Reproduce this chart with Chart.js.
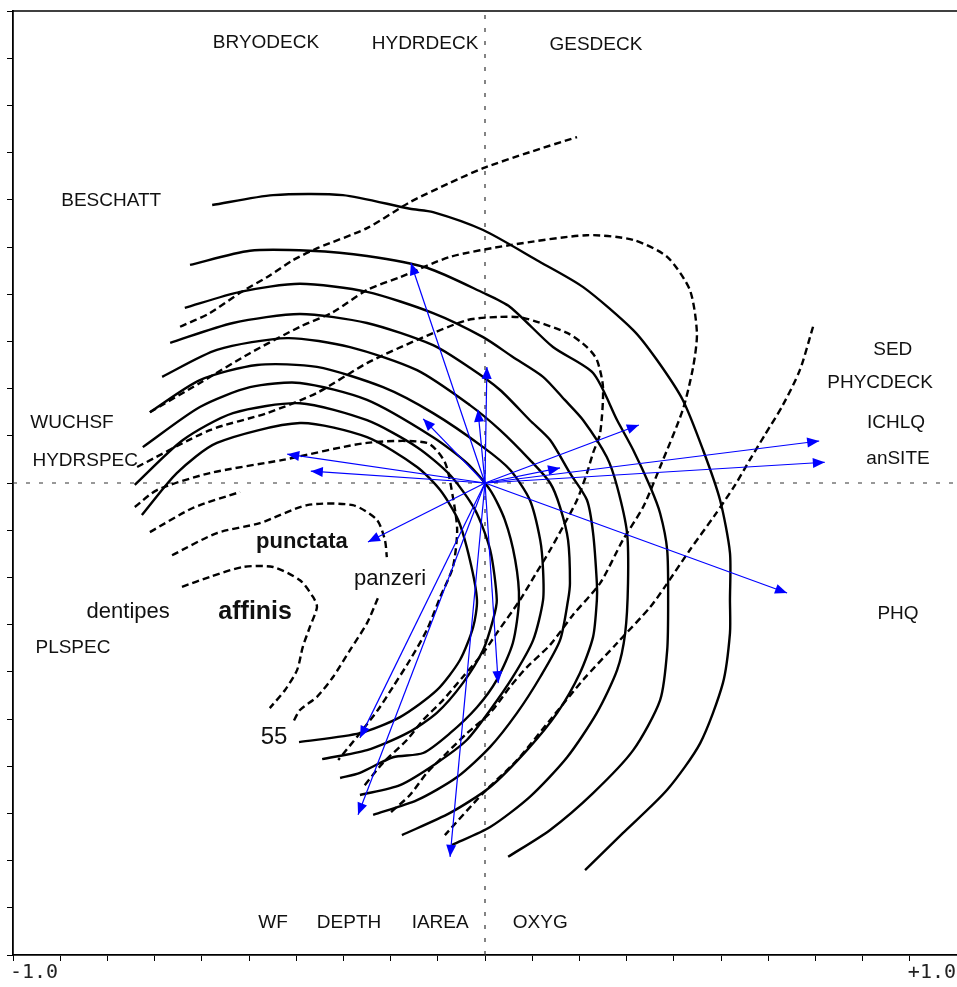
<!DOCTYPE html>
<html>
<head>
<meta charset="utf-8">
<title>Ordination diagram</title>
<script src="https://cdn.jsdelivr.net/npm/chart.js@4.4.1/dist/chart.umd.min.js"></script>
<style>
  html, body { margin: 0; padding: 0; background: #fff; }
  #wrap { width: 957px; height: 987px; }
</style>
</head>
<body>
<div id="wrap"><canvas id="ordination" width="957" height="987"></canvas></div>
<script>
/* ---------- 1.  DATA (axis units, -1 .. +1) ---------- */

// solid response contours, outermost first
const s1x = [-0.578,-0.449,-0.301,-0.159,-0.110,-0.004,0.110,0.208,0.314,0.364,0.419,0.462,0.498,0.519,0.519,0.519,0.504,0.456,0.386,0.292,0.212];
const s1y = [0.589,0.610,0.610,0.581,0.574,0.536,0.472,0.415,0.324,0.261,0.176,0.070,-0.036,-0.148,-0.248,-0.318,-0.424,-0.551,-0.650,-0.742,-0.820];
const s2x = [-0.625,-0.498,-0.371,-0.250,-0.123,-0.004,0.053,0.144,0.229,0.280,0.314,0.350,0.371,0.386,0.388,0.386,0.371,0.314,0.229,0.138,0.049];
const s2y = [0.462,0.492,0.492,0.481,0.456,0.403,0.373,0.288,0.233,0.133,0.070,-0.008,-0.064,-0.142,-0.248,-0.354,-0.460,-0.566,-0.657,-0.735,-0.792];
const s3x = [-0.636,-0.519,-0.392,-0.250,-0.110,-0.004,0.059,0.123,0.169,0.208,0.258,0.280,0.301,0.303,0.297,0.280,0.237,0.174,0.095,0.011,-0.070];
const s3y = [0.371,0.405,0.422,0.405,0.360,0.309,0.267,0.225,0.176,0.133,0.055,-0.008,-0.106,-0.212,-0.318,-0.396,-0.487,-0.581,-0.665,-0.729,-0.767];
const s4x = [-0.667,-0.534,-0.392,-0.250,-0.110,-0.032,0.032,0.095,0.138,0.180,0.216,0.229,0.237,0.237,0.229,0.201,0.153,0.089,0.011,-0.074,-0.176];
const s4y = [0.297,0.339,0.358,0.339,0.292,0.244,0.197,0.133,0.091,0.021,-0.036,-0.106,-0.212,-0.248,-0.326,-0.403,-0.487,-0.566,-0.644,-0.699,-0.746];
const s5x = [-0.684,-0.568,-0.419,-0.286,-0.144,-0.032,0.032,0.095,0.138,0.159,0.176,0.180,0.176,0.159,0.117,0.068,0.011,-0.059,-0.144,-0.237];
const s5y = [0.225,0.282,0.307,0.288,0.239,0.165,0.112,0.049,0.000,-0.051,-0.121,-0.212,-0.248,-0.333,-0.411,-0.487,-0.559,-0.623,-0.672,-0.703];
const s6x = [-0.710,-0.604,-0.483,-0.356,-0.216,-0.110,-0.004,0.053,0.095,0.117,0.123,0.123,0.102,0.059,0.011,-0.038,-0.102,-0.180,-0.265];
const s6y = [0.150,0.218,0.250,0.246,0.203,0.148,0.076,0.028,-0.036,-0.121,-0.184,-0.248,-0.333,-0.411,-0.481,-0.544,-0.593,-0.640,-0.661];
const s7x = [-0.725,-0.604,-0.498,-0.392,-0.250,-0.110,-0.038,0.011,0.042,0.064,0.072,0.059,0.025,-0.017,-0.074,-0.131,-0.195,-0.265,-0.307];
const s7y = [0.076,0.161,0.203,0.212,0.176,0.097,0.042,-0.015,-0.078,-0.163,-0.248,-0.339,-0.417,-0.475,-0.530,-0.572,-0.581,-0.614,-0.625];
const s8x = [-0.742,-0.640,-0.534,-0.392,-0.250,-0.144,-0.074,-0.021,0.011,0.025,0.017,-0.004,-0.047,-0.102,-0.165,-0.250,-0.345];
const s8y = [-0.004,0.091,0.148,0.169,0.133,0.076,0.017,-0.057,-0.142,-0.248,-0.290,-0.354,-0.424,-0.487,-0.530,-0.566,-0.585];
const s9x = [-0.727,-0.653,-0.568,-0.392,-0.250,-0.144,-0.095,-0.057,-0.032,-0.017,-0.025,-0.053,-0.102,-0.180,-0.265,-0.394];
const s9y = [-0.068,0.021,0.085,0.127,0.097,0.034,-0.015,-0.078,-0.163,-0.248,-0.305,-0.375,-0.439,-0.496,-0.530,-0.549];

// dashed response contours
const daX = [-0.646,-0.583,-0.519,-0.462,-0.407,-0.354,-0.250,-0.159,-0.074,-0.004,0.095,0.195];
const daY = [0.331,0.360,0.403,0.436,0.472,0.498,0.540,0.595,0.636,0.667,0.701,0.733];
const dbX = [-0.710,-0.604,-0.498,-0.392,-0.322,-0.250,-0.180,-0.074,0.053,0.216,0.314,0.386,0.434,0.449,0.441,0.419,0.371,0.335,0.292,0.244,0.186,0.138,0.089,0.053,0.011,-0.038,-0.081,-0.123,-0.159,-0.201];
const dbY = [0.150,0.212,0.275,0.331,0.362,0.409,0.436,0.479,0.504,0.525,0.515,0.479,0.409,0.318,0.246,0.155,0.034,-0.051,-0.121,-0.212,-0.280,-0.343,-0.390,-0.432,-0.487,-0.530,-0.572,-0.614,-0.661,-0.699];
const dcX = [-0.737,-0.583,-0.462,-0.356,-0.250,-0.144,-0.038,0.032,0.081,0.174,0.216,0.237,0.250,0.244,0.229,0.216,0.195,0.165,0.138,0.106,0.074,0.025,-0.004,-0.047,-0.089,-0.131,-0.165,-0.216,-0.258];
const dcY = [0.034,0.112,0.148,0.191,0.254,0.303,0.345,0.352,0.350,0.318,0.288,0.261,0.203,0.106,0.064,0.021,-0.036,-0.093,-0.142,-0.195,-0.248,-0.318,-0.360,-0.411,-0.460,-0.502,-0.544,-0.593,-0.644];
const ddX = [-0.742,-0.695,-0.583,-0.428,-0.250,-0.123,-0.085,-0.068,-0.059,-0.068,-0.095,-0.123,-0.159,-0.195,-0.227,-0.265,-0.311];
const ddY = [-0.051,-0.015,0.021,0.049,0.085,0.085,0.044,-0.030,-0.100,-0.178,-0.242,-0.311,-0.375,-0.432,-0.481,-0.530,-0.587];
const deX = [-0.710,-0.619,-0.519];
const deY = [-0.104,-0.053,-0.019];
const punctataX = [-0.663,-0.568,-0.477,-0.377,-0.280,-0.229,-0.212,-0.208];
const punctataY = [-0.153,-0.106,-0.085,-0.047,-0.047,-0.078,-0.121,-0.157];
const affinisX = [-0.642,-0.583,-0.513,-0.449,-0.392,-0.364,-0.356,-0.371,-0.386,-0.398,-0.424,-0.456];
const affinisY = [-0.220,-0.199,-0.178,-0.178,-0.206,-0.242,-0.263,-0.305,-0.347,-0.396,-0.439,-0.477];
const panzeriX = [-0.227,-0.250,-0.286,-0.322,-0.356,-0.392,-0.407];
const panzeriY = [-0.244,-0.297,-0.354,-0.411,-0.453,-0.481,-0.508];
const outerX = [0.695,0.667,0.631,0.593,0.561,0.530,0.487,0.434,0.381,0.350,0.280,0.208,0.138,0.068,-0.004,-0.085];
const outerY = [0.331,0.239,0.165,0.102,0.049,-0.004,-0.068,-0.142,-0.220,-0.263,-0.339,-0.417,-0.502,-0.587,-0.657,-0.746];

// environmental arrows (tips; all start at the origin)
const arrowX = [-0.157, 0.004,-0.015,-0.131,-0.419,-0.369,-0.248, 0.326, 0.159, 0.708, 0.720, 0.640, 0.028,-0.265,-0.269,-0.074];
const arrowY = [ 0.466, 0.246, 0.155, 0.136, 0.061, 0.025,-0.125, 0.123, 0.032, 0.089, 0.044,-0.233,-0.424,-0.540,-0.703,-0.792];

// text labels
const labelText = ['BRYODECK','HYDRDECK','GESDECK','BESCHATT','SED','PHYCDECK','ICHLQ','anSITE',
                   'WUCHSF','HYDRSPEC','punctata','panzeri','dentipes','affinis','PLSPEC','55','PHQ',
                   'WF','DEPTH','IAREA','OXYG'];
const labelX = [-0.464,-0.127, 0.235,-0.792, 0.864, 0.837, 0.871, 0.875,
                -0.875,-0.847,-0.388,-0.201,-0.756,-0.487,-0.873,-0.447, 0.875,
                -0.449,-0.288,-0.095, 0.117];
const labelY = [ 0.932, 0.930, 0.928, 0.597, 0.282, 0.212, 0.127, 0.051,
                 0.127, 0.047,-0.125,-0.203,-0.273,-0.273,-0.350,-0.538,-0.278,
                -0.932,-0.932,-0.932,-0.932];
const axisEndLabels = ['-1.0', '+1.0'];

/* ---------- 2.  HELPERS ---------- */
const zip = (xs, ys) => xs.map((v, i) => ({ x: v, y: ys[i] }));

function contour(xs, ys, dashed) {
  return {
    data: zip(xs, ys), showLine: true, fill: false,
    borderColor: '#000', borderWidth: 2.4, borderDash: dashed ? [7, 4] : [],
    pointRadius: 0, tension: 0.25, order: 3
  };
}

const labelFont = {
  punctata: 'bold 22px "Liberation Sans", Arial, sans-serif',
  affinis:  'bold 25px "Liberation Sans", Arial, sans-serif',
  panzeri:  '22px "Liberation Sans", Arial, sans-serif',
  dentipes: '22px "Liberation Sans", Arial, sans-serif',
  '55':     '24px "Liberation Sans", Arial, sans-serif'
};
const defaultFont = '19px "Liberation Sans", Arial, sans-serif';

/* ---------- 3.  DATASETS ---------- */
const datasets = [];

arrowX.forEach((ax, i) => {
  datasets.push({
    data: [{ x: 0, y: 0 }, { x: ax, y: arrowY[i] }], showLine: true, fill: false,
    borderColor: '#0000ff', borderWidth: 1.2, pointRadius: 0, order: 1
  });
});

[[s1x,s1y],[s2x,s2y],[s3x,s3y],[s4x,s4y],[s5x,s5y],[s6x,s6y],[s7x,s7y],[s8x,s8y],[s9x,s9y]]
  .forEach(([xs, ys]) => datasets.push(contour(xs, ys, false)));

[[daX,daY],[dbX,dbY],[dcX,dcY],[ddX,ddY],[deX,deY],[punctataX,punctataY],
 [affinisX,affinisY],[panzeriX,panzeriY],[outerX,outerY]]
  .forEach(([xs, ys]) => datasets.push(contour(xs, ys, true)));

// origin cross-hairs
datasets.push({ data: [{ x: -1, y: 0 }, { x: 1, y: 0 }], showLine: true, borderColor: '#333',
                borderWidth: 1.2, borderDash: [4, 9], pointRadius: 0, order: 5 });
datasets.push({ data: [{ x: 0, y: -1 }, { x: 0, y: 1 }], showLine: true, borderColor: '#333',
                borderWidth: 1.2, borderDash: [4, 9], pointRadius: 0, order: 5 });

/* ---------- 4.  OVERLAY: frame, arrow heads, labels ---------- */
const overlay = {
  id: 'overlay',
  afterDatasetsDraw(chart) {
    const { ctx, chartArea: a, scales: { x, y } } = chart;
    ctx.save();

    // top frame line
    ctx.strokeStyle = '#000';
    ctx.lineWidth = 1.5;
    ctx.beginPath(); ctx.moveTo(a.left, a.top); ctx.lineTo(a.right, a.top); ctx.stroke();

    // arrow heads
    const ox = x.getPixelForValue(0), oy = y.getPixelForValue(0);
    ctx.fillStyle = '#0000ff';
    arrowX.forEach((ax, i) => {
      const tx = x.getPixelForValue(ax), ty = y.getPixelForValue(arrowY[i]);
      const ang = Math.atan2(ty - oy, tx - ox);
      const L = 12, W = 5;
      ctx.beginPath();
      ctx.moveTo(tx, ty);
      ctx.lineTo(tx - L * Math.cos(ang) + W * Math.sin(ang), ty - L * Math.sin(ang) - W * Math.cos(ang));
      ctx.lineTo(tx - L * Math.cos(ang) - W * Math.sin(ang), ty - L * Math.sin(ang) + W * Math.cos(ang));
      ctx.closePath();
      ctx.fill();
    });

    // labels
    ctx.fillStyle = '#111';
    ctx.textAlign = 'center';
    ctx.textBaseline = 'middle';
    labelText.forEach((t, i) => {
      ctx.font = labelFont[t] || defaultFont;
      ctx.fillText(t, x.getPixelForValue(labelX[i]), y.getPixelForValue(labelY[i]));
    });

    // axis end labels
    ctx.font = '20px "DejaVu Sans Mono", monospace';
    ctx.fillStyle = '#222';
    ctx.textAlign = 'left';
    ctx.fillText(axisEndLabels[0], x.getPixelForValue(-1) - 3, a.bottom + 18);
    ctx.textAlign = 'right';
    ctx.fillText(axisEndLabels[1], x.getPixelForValue(1) - 1, a.bottom + 18);

    ctx.restore();
  }
};

/* ---------- 5.  CHART ---------- */
const axisOpts = {
  type: 'linear', min: -1, max: 1,
  ticks: { stepSize: 0.1, display: false },
  grid: { drawOnChartArea: false, drawTicks: true, tickLength: 6, color: '#000', lineWidth: 1 },
  border: { display: true, color: '#000', width: 1.8 }
};

new Chart(document.getElementById('ordination'), {
  type: 'scatter',
  data: { datasets },
  options: {
    responsive: false,
    animation: false,
    layout: { padding: { left: 7, right: 0, top: 11, bottom: 26 } },
    plugins: { legend: { display: false }, tooltip: { enabled: false } },
    scales: {
      x: { ...axisOpts, position: 'bottom', afterFit(s) { s.height = 6; } },
      y: { ...axisOpts, position: 'left',   afterFit(s) { s.width = 6; } }
    }
  },
  plugins: [overlay]
});
</script>
</body>
</html>
